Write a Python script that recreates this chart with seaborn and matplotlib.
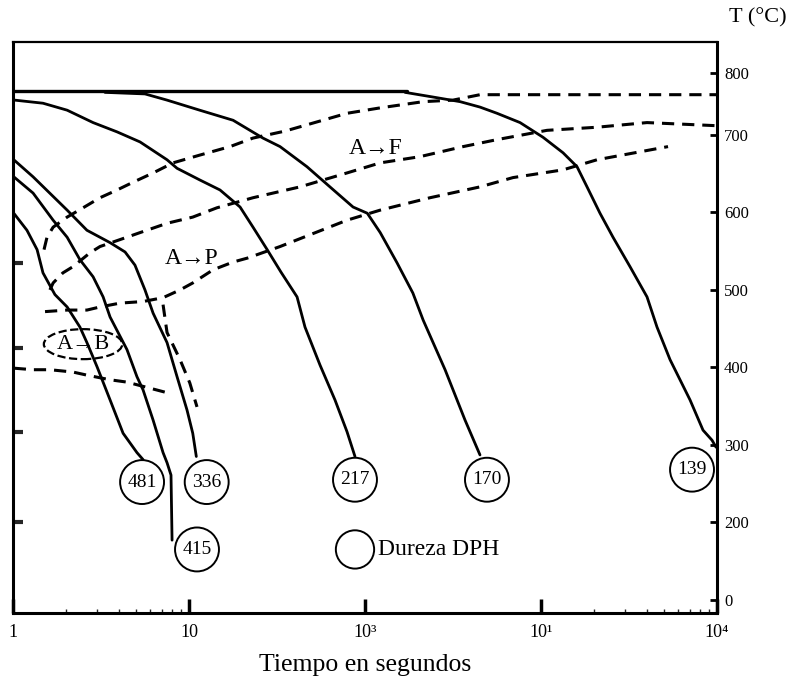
import matplotlib
matplotlib.use("Agg")
import matplotlib.pyplot as plt
import seaborn as sns
from matplotlib.ticker import FixedLocator, NullFormatter

# ---------------- data (time in s, temperature in °C) ----------------
# solid cooling curves
t_481 = [1.01, 1.20, 1.37, 1.48, 1.73, 2.03, 2.40, 2.63, 3.00, 3.56, 4.22, 5.06, 5.48]
T_481 = [599, 577, 552, 522, 494, 478, 452, 432, 401, 358, 315, 290, 281]
t_415 = [1.01, 1.30, 1.69, 2.03, 2.40, 2.85, 3.25, 3.56, 4.44, 5.06, 5.48, 6.25, 7.12, 7.50, 7.90, 8.01]
T_415 = [646, 625, 590, 568, 539, 517, 491, 465, 423, 388, 371, 332, 290, 277, 261, 177]
t_336 = [1.01, 1.30, 2.03, 2.63, 3.56, 4.33, 4.93, 5.62, 6.25, 7.50, 8.55, 9.74, 10.5, 11.0]
T_336 = [668, 646, 603, 577, 561, 549, 532, 500, 470, 432, 388, 345, 315, 285]
t_217 = [1.02, 1.48, 2.03, 2.85, 3.90, 5.27, 7.50, 8.55, 11.5, 15.0, 19.5, 23.1, 27.8, 33.3,
         41.1, 45.6, 55.5, 67.5, 79.0, 87.7]
T_217 = [745, 741, 732, 716, 704, 691, 668, 657, 642, 629, 607, 581, 552, 523,
         491, 452, 403, 358, 317, 285]
t_170 = [3.33, 5.62, 7.50, 11.5, 17.8, 26.3, 32.9, 46.8, 63.2, 85.5, 103, 122, 152, 187,
         214, 285, 370, 450]
T_170 = [755, 753, 745, 732, 719, 696, 685, 659, 633, 607, 599, 574, 535, 496,
         461, 397, 332, 287]
t_139 = [169, 243, 347, 450, 562, 760, 1027, 1334, 1602, 1826, 2163, 2565, 3204, 4002,
         4561, 5408, 7025, 8325, 9368, 9870]
T_139 = [755, 749, 743, 736, 728, 716, 697, 677, 659, 633, 599, 568, 530, 491,
         452, 410, 358, 319, 306, 297]
t_ae = [1.0, 173]
T_ae = [757, 757]

# dashed transformation curves
t_fs = [1.50, 1.56, 1.69, 2.03, 2.50, 3.12, 3.90, 4.81, 6.25, 8.11, 11.5, 17.1, 23.1, 35.1,
        79.0, 122, 214, 316, 450, 9870]
T_fs = [552, 568, 581, 594, 606, 619, 629, 639, 651, 664, 674, 685, 696, 705,
        728, 735, 743, 745, 752, 752]
t_ff = [1.62, 1.69, 1.92, 2.19, 2.74, 3.12, 4.06, 5.27, 7.50, 10.5, 14.4, 23.1, 30.0, 42.7,
        79.0, 122, 205, 361, 562, 1082, 2080, 4002, 9870]
T_ff = [500, 509, 522, 530, 548, 556, 565, 574, 586, 594, 606, 619, 625, 633,
        651, 664, 672, 685, 694, 706, 710, 716, 712]
t_pf = [1.52, 2.03, 2.63, 3.12, 4.06, 5.48, 7.12, 8.89, 10.5, 13.7, 17.8, 21.4, 32.9, 79.0,
        122, 234, 450, 693, 1334, 2080, 5268]
T_pf = [472, 474, 474, 478, 483, 485, 490, 500, 509, 526, 536, 541, 556, 590,
        603, 619, 633, 645, 655, 668, 685]
t_pf_low = [7.12, 7.50, 8.89, 10.1, 11.1]
T_pf_low = [481, 445, 410, 380, 349]
t_bs = [1.01, 1.30, 1.62, 2.19, 2.63, 3.56, 4.44, 7.60]
T_bs = [399, 397, 397, 394, 390, 384, 381, 367]

# hardness circles
hardness = ["481", "336", "415", "217", "170", "139"]
hard_t = [5.41, 12.6, 11.1, 87.7, 493, 7210]
hard_T = [252, 252, 165, 255, 255, 268]
legend_t = [87.7]
legend_T = [165]
legend_text = "Dureza DPH"

# region labels
region_labels = ["A→F", "A→P", "A→B"]
region_t = [115, 10.4, 2.50]
region_T = [683, 541, 430]

# ticks
x_ticks = [1, 10, 100, 1000, 10000]
x_tick_labels = ["1", "10", "10³", "10¹", "10⁴"]
y_ticks = [780, 700, 600, 500, 400, 300, 200, 100]
y_tick_labels = ["800", "700", "600", "500", "400", "300", "200", "0"]

# ---------------- plotting ----------------
sns.set_theme(style="white")
plt.rcParams["font.family"] = ["Liberation Serif", "DejaVu Serif"]
plt.rcParams["axes.edgecolor"] = "black"

fig = plt.figure(figsize=(7.99, 6.82), dpi=100)
ax = fig.add_axes([0.0163, 0.1012, 0.8811, 0.8372])

solid_kw = dict(color="black", lw=2.0, sort=False, estimator=None, legend=False, ax=ax)
for tt, TT in [(t_481, T_481), (t_415, T_415), (t_336, T_336), (t_217, T_217),
               (t_170, T_170), (t_139, T_139)]:
    sns.lineplot(x=tt, y=TT, **solid_kw)
sns.lineplot(x=t_ae, y=T_ae, color="black", lw=2.4, sort=False, estimator=None,
             legend=False, ax=ax)

dash_kw = dict(color="black", lw=2.2, sort=False, estimator=None, legend=False, ax=ax,
               linestyle=(0, (4, 2.6)))
for tt, TT in [(t_fs, T_fs), (t_ff, T_ff), (t_pf, T_pf), (t_pf_low, T_pf_low), (t_bs, T_bs)]:
    sns.lineplot(x=tt, y=TT, **dash_kw)

# hardness circles
sns.scatterplot(x=hard_t, y=hard_T, s=1000, marker="o", facecolor="none",
                edgecolor="black", linewidth=1.4, legend=False, ax=ax, zorder=5)
sns.scatterplot(x=legend_t, y=legend_T, s=760, marker="o", facecolor="none",
                edgecolor="black", linewidth=1.4, legend=False, ax=ax, zorder=5)
for lab, tt, TT in zip(hardness, hard_t, hard_T):
    ax.text(tt, TT, lab, ha="center", va="center", fontsize=14, color="black", zorder=6)
ax.text(118.6, legend_T[0], legend_text, ha="left", va="center", fontsize=17, color="black")

for lab, tt, TT in zip(region_labels, region_t, region_T):
    if lab == "A→B":
        ax.text(tt, TT, lab, ha="center", va="center", fontsize=16, color="black",
                bbox=dict(boxstyle="ellipse,pad=0.05", fc="none", ec="black",
                          ls="--", lw=1.6))
    else:
        ax.text(tt, TT, lab, ha="center", va="center", fontsize=17, color="black")

ax.set_xscale("log")
ax.set_xlim(1, 10000)
ax.set_ylim(83, 820)

# spines
for side, lw in [("left", 2.2), ("right", 2.2), ("bottom", 2.2), ("top", 1.6)]:
    ax.spines[side].set_visible(True)
    ax.spines[side].set_linewidth(lw)
    ax.spines[side].set_color("black")

# x axis ticks
ax.xaxis.set_major_locator(FixedLocator(x_ticks))
ax.set_xticklabels(x_tick_labels)
ax.xaxis.set_minor_locator(FixedLocator([2, 3, 4, 5, 6, 7, 8, 9,
                                         2000, 3000, 4000, 5000, 6000, 7000, 8000, 9000]))
ax.xaxis.set_minor_formatter(NullFormatter())
ax.tick_params(axis="x", which="major", direction="in", length=10, width=2.5,
               bottom=True, top=False, labelsize=13, pad=8, colors="black")
ax.tick_params(axis="x", which="minor", direction="in", length=3, width=1,
               bottom=True, top=False)

# y axis ticks on right
ax.yaxis.tick_right()
ax.set_yticks(y_ticks)
ax.set_yticklabels(y_tick_labels)
ax.yaxis.set_minor_locator(FixedLocator([535, 425, 316, 201]))
ax.yaxis.set_minor_formatter(NullFormatter())
ax.tick_params(axis="y", which="major", direction="in", length=5, width=2,
               right=True, left=False, labelright=True, labelleft=False,
               labelsize=12, pad=5, colors="black")
ax.tick_params(axis="y", which="minor", direction="in", length=7, width=3,
               left=True, right=False)

ax.set_xlabel("Tiempo en segundos", fontsize=18.5, labelpad=9, color="black")
ax.set_ylabel("")
fig.text(0.949, 0.974, "T (°C)", ha="center", va="center", fontsize=16, color="black")

fig.savefig("out.png", dpi=100, facecolor="white")
